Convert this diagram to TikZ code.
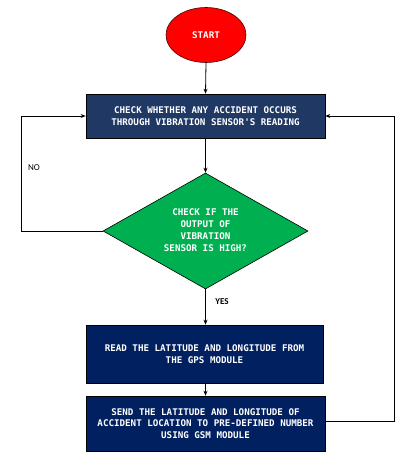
\documentclass[tikz,border=0pt]{standalone}
\usepackage{fontspec}
\setmonofont{DejaVu Sans Mono}
\setsansfont{Carlito}
\usetikzlibrary{shapes.geometric,arrows.meta}
\definecolor{boxA}{HTML}{203864}
\definecolor{boxB}{HTML}{002060}
\definecolor{dgreen}{HTML}{00B050}
\definecolor{sred}{HTML}{FF0000}
\begin{document}
\begin{tikzpicture}[x=1pt,y=-1pt,
  txt/.style={text=white,font=\fontsize{9.2}{11.6}\selectfont\ttfamily\bfseries,align=center,inner sep=0pt},
  procbox/.style={txt,draw=black,line width=0.6pt,rectangle,minimum height=#1},
  conn/.style={draw=black,line width=0.8pt},
  arr/.style={conn,-{Stealth[length=5pt,width=4pt]}},
  lbl/.style={font=\fontsize{9}{10}\selectfont\sffamily,text=black}]
\useasboundingbox (0,0) rectangle (407,468);
\node[ellipse,draw=black!70!red,line width=0.6pt,fill=sred,minimum width=80pt,minimum height=55pt,inner sep=0pt,txt] (start) at (206,35) {START};
\node[procbox=44pt,fill=boxA,minimum width=239pt] (check) at (205.5,116) {CHECK WHETHER ANY ACCIDENT OCCURS\\THROUGH VIBRATION SENSOR'S READING};
\node[diamond,draw=black,line width=0.6pt,fill=dgreen,minimum width=205pt,minimum height=116pt,inner sep=0pt,aspect=1.77] (dec) at (205.5,231) {};
\node[txt,font=\fontsize{9.2}{12}\selectfont\ttfamily\bfseries] at (205.5,230) {CHECK IF THE\\OUTPUT OF\\VIBRATION\\SENSOR IS HIGH?};
\node[procbox=58pt,fill=boxB,minimum width=237pt] (gps) at (204.5,354) {READ THE LATITUDE AND LONGITUDE FROM\\THE GPS MODULE};
\node[procbox=55pt,fill=boxB,minimum width=239pt,font=\fontsize{9.2}{11.8}\selectfont\ttfamily\bfseries] (gsm) at (205.5,423.5) {SEND THE LATITUDE AND LONGITUDE OF\\ACCIDENT LOCATION TO PRE-DEFINED NUMBER\\USING GSM MODULE};
\coordinate (l1) at (21,231);
\coordinate (l2) at (21,116);
\coordinate (r1) at (394,421);
\coordinate (r2) at (394,116);
\draw[arr] (start.south) -- (check.north);
\draw[arr] (check.south) -- (dec.north);
\draw[arr] (dec.south) -- (gps.north -| dec.south);
\draw[arr] (gps.south -| gsm.north) -- (gsm.north);
\draw[arr] (dec.west) -- (l1) -- (l2) -- (check.west);
\draw[arr] (gsm.east |- r1) -- (r1) -- (r2) -- (check.east);
\node[lbl] (no) at (34,168) {NO};
\node[lbl,font=\fontsize{9}{10}\selectfont\sffamily\bfseries] (yes) at (222,302) {YES};
\end{tikzpicture}
\end{document}
